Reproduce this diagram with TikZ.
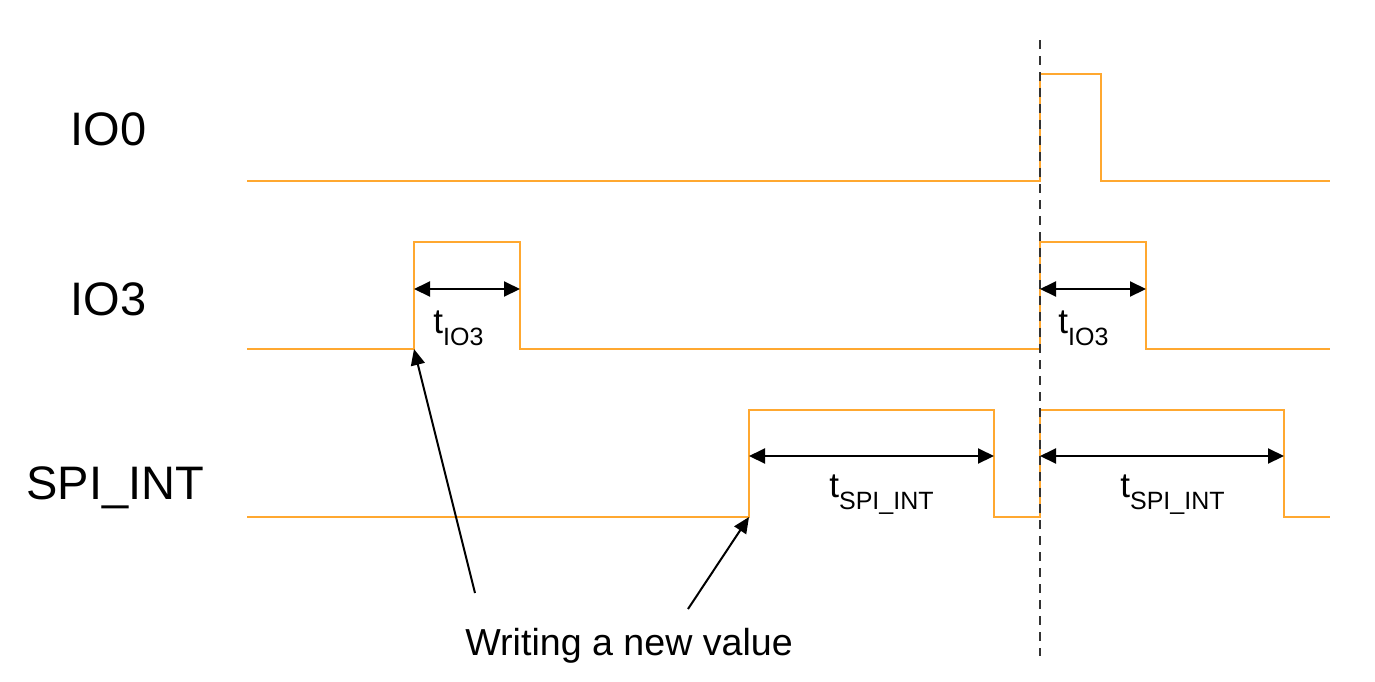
\documentclass[tikz,border=0pt]{standalone}
\usepackage{fontspec}
\setmainfont{Liberation Sans}
\usetikzlibrary{arrows.meta}
\definecolor{sig}{RGB}{255,168,48}
\tikzset{
  wave/.style={draw=sig, line width=1pt, line join=miter},
  dim/.style={draw=black, line width=1pt, {Triangle[length=8pt,width=7.5pt]}-{Triangle[length=8pt,width=7.5pt]}},
  pointer/.style={draw=black, line width=1pt, -{Triangle[length=8pt,width=7pt]}},
  siglabel/.style={anchor=base west, inner sep=0pt, font=\fontsize{23.5}{26}\selectfont},
  tlabel/.style={anchor=base west, inner sep=0pt, font=\fontsize{17.5}{20}\selectfont},
  note/.style={anchor=base west, inner sep=0pt, font=\fontsize{18.8}{21}\selectfont}
}
\newcommand{\subtxt}[1]{\raisebox{-6pt}{\fontsize{12.5}{14}\selectfont #1}}
\begin{document}
\begin{tikzpicture}[x=0.5pt,y=-0.5pt]
\useasboundingbox[fill=white] (0,0) rectangle (1375,681);
% signal labels
\node[siglabel] (lio0) at (70,145) {IO0};
\node[siglabel] (lio3) at (70,315) {IO3};
\node[siglabel] (lspi) at (26,499) {SPI\_INT};
% marker
\coordinate (mtop) at (1040,40);
\coordinate (mbot) at (1040,656);
% IO0
\draw[wave] (247,181) -- (1040,181) -- (1040,74) -- (1101,74) -- (1101,181) -- (1330,181);
% IO3
\coordinate (a1) at (414,349);
\coordinate (a2) at (520,349);
\coordinate (a3) at (1040,349);
\coordinate (a4) at (1146,349);
\draw[wave] (247,349) -- (a1) -- (414,242) -- (520,242) -- (a2) -- (a3) -- (1040,242) -- (1146,242) -- (a4) -- (1330,349);
% SPI_INT
\coordinate (b1) at (749,517);
\coordinate (b2) at (994,517);
\coordinate (b3) at (1040,517);
\coordinate (b4) at (1284,517);
\draw[wave] (247,517) -- (b1) -- (749,410) -- (994,410) -- (b2) -- (b3) -- (1040,410) -- (1284,410) -- (b4) -- (1330,517);
% dashed marker
\draw[black!80, line width=1pt, dash pattern=on 4.5pt off 3.5pt] (mtop) -- (mbot);
% dimension arrows
\coordinate (d1l) at (414,289);
\coordinate (d1r) at (520,289);
\coordinate (d2l) at (1040,289);
\coordinate (d2r) at (1146,289);
\coordinate (d3l) at (749,456);
\coordinate (d3r) at (994,456);
\coordinate (d4l) at (1040,456);
\coordinate (d4r) at (1284,456);
\draw[dim] (d1l) -- (d1r);
\draw[dim] (d2l) -- (d2r);
\draw[dim] (d3l) -- (d3r);
\draw[dim] (d4l) -- (d4r);
% dimension labels
\node[tlabel] (t1) at (433,333) {t\subtxt{IO3}};
\node[tlabel] (t2) at (1058,333) {t\subtxt{IO3}};
\node[tlabel] (t3) at (829,497) {t\subtxt{SPI\_INT}};
\node[tlabel] (t4) at (1120,497) {t\subtxt{SPI\_INT}};
% note
\node[note] (note) at (465,655) {Writing a new value};
\coordinate (p1) at (475,593);
\coordinate (p2) at (688,609);
\draw[pointer] (p1) -- (a1);
\draw[pointer] (p2) -- (b1);
\end{tikzpicture}
\end{document}
